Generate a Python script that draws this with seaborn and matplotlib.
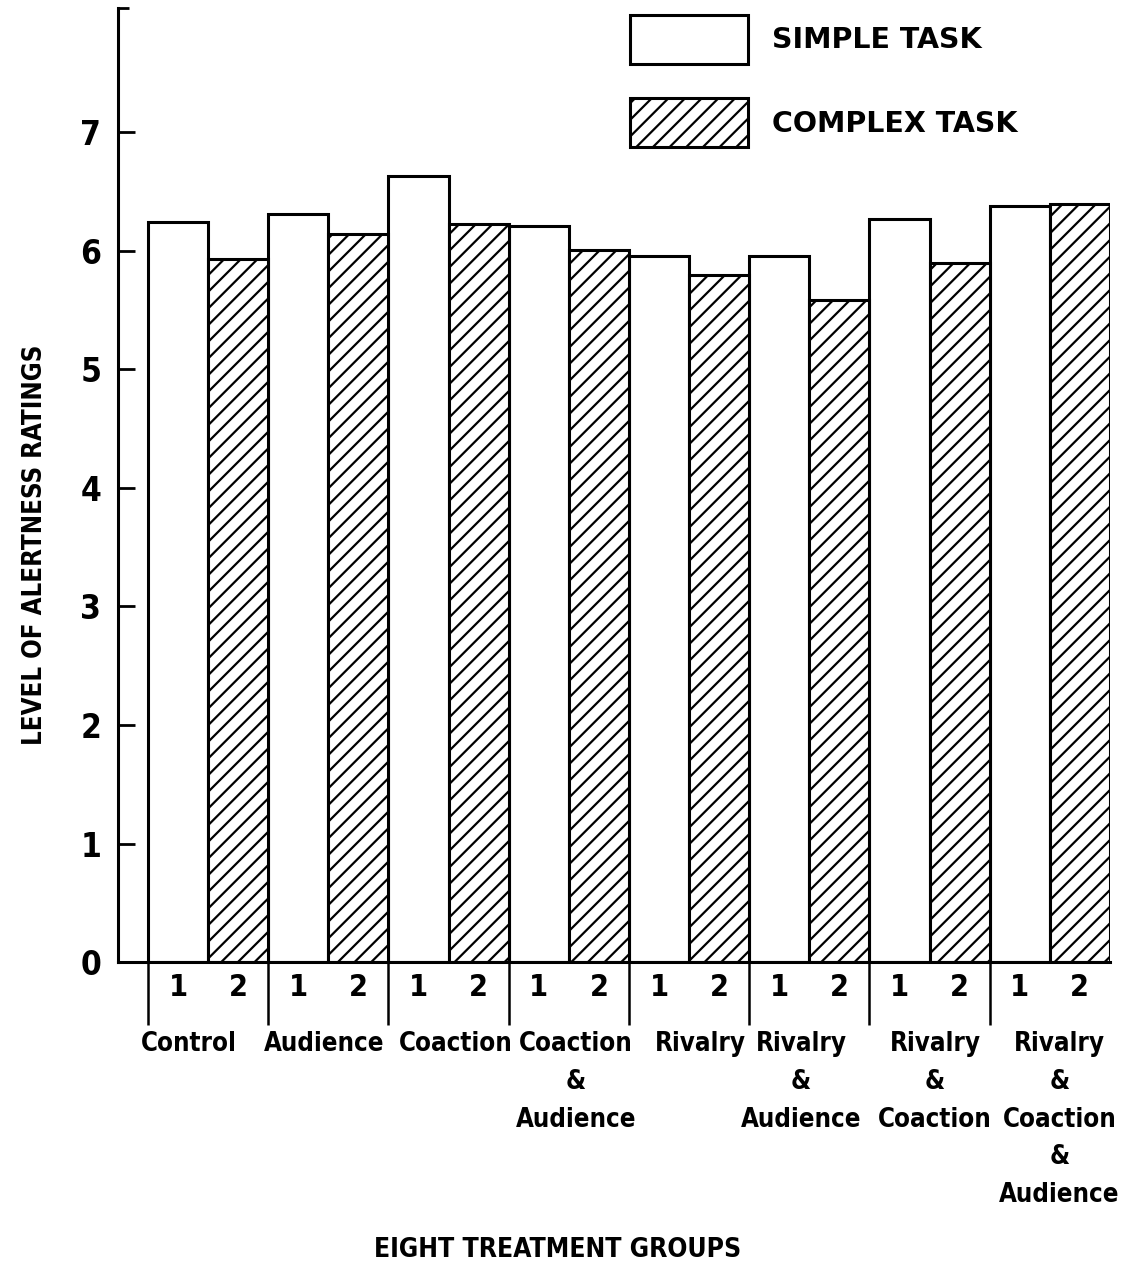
import matplotlib
matplotlib.use("Agg")
import matplotlib.pyplot as plt
import seaborn as sns
import pandas as pd
from matplotlib.patches import Patch

# ---------------- data ----------------
groups = ["Control", "Audience", "Coaction", "Coaction\n&\nAudience", "Rivalry",
          "Rivalry\n&\nAudience", "Rivalry\n&\nCoaction",
          "Rivalry\n&\nCoaction\n&\nAudience"]
tasks = ["SIMPLE TASK", "COMPLEX TASK"]
simple_task = [6.24, 6.31, 6.63, 6.21, 5.96, 5.96, 6.27, 6.38]
complex_task = [5.93, 6.14, 6.23, 6.01, 5.80, 5.59, 5.90, 6.40]
sub_labels = ["1", "2"]
y_ticks = [0, 1, 2, 3, 4, 5, 6, 7]

# small horizontal nudges (points) of the group names, as typeset in the original
name_nudge = [-14, -3, 5, 5, 8, -6, 4, 7]

sns.set_theme(style="white")
plt.rcParams['font.family'] = ['DejaVu Sans']
plt.rcParams['font.stretch'] = 'condensed'
plt.rcParams['font.weight'] = 'bold'
plt.rcParams['text.color'] = 'black'
plt.rcParams['hatch.linewidth'] = 1.6
plt.rcParams['hatch.color'] = 'black'

df = pd.DataFrame({
    "group": groups * 2,
    "task": [tasks[0]] * len(groups) + [tasks[1]] * len(groups),
    "value": simple_task + complex_task,
})

fig = plt.figure(figsize=(11.32, 12.68), dpi=100)
ax = fig.add_axes([0.1042, 0.2413, 0.8763, 0.7524])

sns.barplot(data=df, x="group", y="value", hue="task", order=groups,
            hue_order=tasks, palette=["white", "white"], saturation=1,
            width=1.0, gap=0, edgecolor="black", linewidth=2.2,
            errorbar=None, legend=False, ax=ax)

for bar in ax.containers[1]:
    bar.set_hatch("//")

ax.set_xlim(-0.75, 7.5)
ax.set_ylim(0, 8.05)

# spines
for s in ["top", "right"]:
    ax.spines[s].set_visible(False)
for s in ["left", "bottom"]:
    ax.spines[s].set_linewidth(2.2)
    ax.spines[s].set_color("black")

# y ticks
ax.set_yticks(y_ticks)
ax.set_yticklabels([str(t) for t in y_ticks], fontsize=24)
ax.tick_params(axis="y", which="major", direction="in", length=12, width=2.0,
               pad=12, left=True, labelcolor="black", color="black")
ax.set_yticks([8.05], minor=True)
ax.tick_params(axis="y", which="minor", direction="in", length=8, width=2.0,
               left=True, color="black")

# x ticks: sub labels 1/2 at bar centres, separators as minor ticks
centres = [i + d for i in range(len(groups)) for d in (-0.25, 0.25)]
ax.set_xticks(centres)
ax.set_xticklabels(sub_labels * len(groups), fontsize=22)
ax.tick_params(axis="x", which="major", length=0, pad=8, labelcolor="black")
ax.set_xticks([i - 0.5 for i in range(len(groups))], minor=True)
ax.tick_params(axis="x", which="minor", direction="out", length=45,
               width=1.8, bottom=True, color="black")

ax.set_xlabel("")
ax.set_ylabel("")

# group names
for i, g in enumerate(groups):
    ax.annotate(g, xy=(i, 0), xycoords=("data", "axes fraction"),
                xytext=(name_nudge[i], -50), textcoords="offset points",
                ha="center", va="top", fontsize=18.5, linespacing=1.58,
                annotation_clip=False)

fig.text(558 / 1132, 1 - 1250 / 1268, "EIGHT TREATMENT GROUPS", ha="center",
         va="center", fontsize=19)
fig.text(35 / 1132, 1 - 545 / 1268, "LEVEL OF ALERTNESS RATINGS",
         rotation=90, ha="center", va="center", fontsize=18.5)

handles = [Patch(facecolor="white", edgecolor="black", linewidth=2.2),
           Patch(facecolor="white", edgecolor="black", linewidth=2.2,
                 hatch="//")]
fig.legend(handles, tasks, loc="upper left",
           bbox_to_anchor=(630 / 1132, 1 - 15 / 1268), frameon=False,
           prop={"size": 20.5, "weight": "bold", "stretch": "normal"},
           handlelength=4.15, handleheight=2.25,
           labelspacing=1.22, handletextpad=0.84, borderpad=0,
           borderaxespad=0)

fig.savefig("out.png", dpi=100)
